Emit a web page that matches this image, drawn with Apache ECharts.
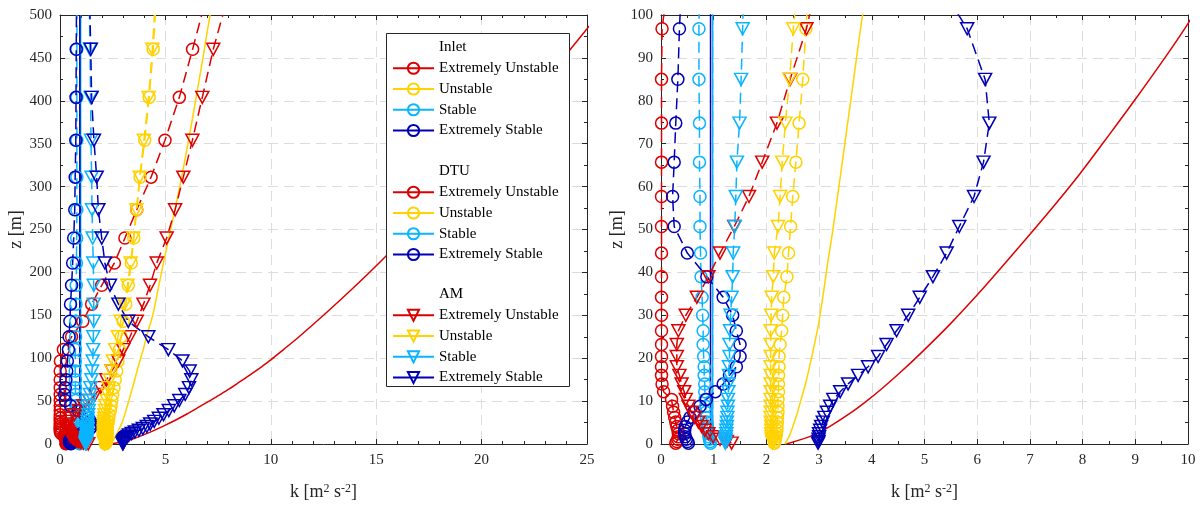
<!DOCTYPE html>
<html><head><meta charset="utf-8">
<script src="https://cdn.jsdelivr.net/npm/echarts@6/dist/echarts.min.js"></script>
<style>html,body{margin:0;padding:0;background:#fff}#c{width:1200px;height:506px}</style>
</head><body><div id="c"></div>
<script>
// ---------- data ----------
const stabilityNames = ['Extremely Unstable', 'Unstable', 'Stable', 'Extremely Stable'];
const groupNames = ['Inlet', 'DTU', 'AM'];

// heights of the inlet profiles [m]
const inletZ = [0, 2, 4, 7, 10, 13, 17, 22, 28, 35, 42, 49, 56, 63, 72, 80, 90, 98, 110, 125, 150, 180, 210, 250, 300, 350, 400, 450, 480, 500];
const inletExtUnstableK = [2.38, 2.88, 3.19, 3.57, 3.9, 4.2, 4.57, 5.0, 5.49, 6.02, 6.52, 7.01, 7.49, 7.95, 8.5, 8.98, 9.56, 10.0, 10.6, 11.34, 12.5, 13.83, 15.1, 16.7, 18.6, 20.43, 22.18, 23.88, 24.87, 25.55];
const inletUnstableK   = [2.35, 2.44, 2.5, 2.58, 2.65, 2.72, 2.8, 2.89, 2.99, 3.08, 3.16, 3.25, 3.33, 3.41, 3.51, 3.6, 3.71, 3.8, 3.95, 4.1, 4.4, 4.65, 4.9, 5.25, 5.68, 6.07, 6.43, 6.78, 6.98, 7.12];
const inletStableK     = [0.98, 0.98, 0.98, 0.98, 0.98, 0.98, 0.98, 0.98, 0.98, 0.98, 0.98, 0.98, 0.98, 0.98, 0.98, 0.98, 0.98, 0.98, 0.98, 0.98, 0.98, 0.98, 0.98, 0.98, 0.98, 0.98, 0.98, 0.98, 0.98, 0.98];
const inletExtStableK  = [0.94, 0.94, 0.94, 0.94, 0.94, 0.94, 0.94, 0.94, 0.94, 0.94, 0.94, 0.94, 0.94, 0.94, 0.94, 0.94, 0.94, 0.94, 0.94, 0.94, 0.94, 0.94, 0.94, 0.94, 0.94, 0.94, 0.94, 0.94, 0.94, 0.94];

// heights of the simulated profiles [m] (last value: top of domain, no marker)
const zLevels = [0.2, 0.6, 1.1, 1.7, 2.4, 3.2, 4.1, 5.1, 6.2, 7.4, 8.8, 10.4, 12.2, 14.0, 16.0, 18.0, 20.4, 23.2, 26.4, 30.0, 34.2, 39.0, 44.5, 50.7, 57.7, 65.7, 74.8, 85.0, 96.8, 110, 125, 143, 163, 185, 211, 240, 273, 311, 354, 404, 460, 500];

const dtuExtUnstableK = [0.28, 0.30, 0.32, 0.33, 0.33, 0.32, 0.30, 0.28, 0.26, 0.24, 0.22, 0.20, 0.05, 0.02, 0.01, 0.01, 0.01, 0.01, 0.01, 0.01, 0.01, 0.01, 0.01, 0.01, 0.01, 0.01, 0.01, 0.01, 0.02, 0.16, 0.55, 1.08, 1.5, 1.98, 2.58, 3.08, 3.64, 4.32, 4.98, 5.66, 6.29, 6.72];
const dtuUnstableK    = [2.15, 2.16, 2.17, 2.18, 2.19, 2.2, 2.2, 2.21, 2.21, 2.22, 2.22, 2.22, 2.23, 2.23, 2.23, 2.24, 2.24, 2.26, 2.29, 2.31, 2.33, 2.39, 2.42, 2.46, 2.5, 2.56, 2.62, 2.69, 2.75, 2.82, 2.9, 3.0, 3.12, 3.24, 3.38, 3.5, 3.64, 3.8, 4.02, 4.23, 4.42, 4.52];
const dtuStableK      = [0.94, 0.93, 0.92, 0.91, 0.9, 0.89, 0.88, 0.87, 0.86, 0.85, 0.85, 0.84, 0.83, 0.83, 0.82, 0.82, 0.81, 0.8, 0.8, 0.79, 0.78, 0.76, 0.75, 0.74, 0.74, 0.73, 0.73, 0.72, 0.72, 0.73, 0.74, 0.75, 0.76, 0.77, 0.78, 0.79, 0.8, 0.8, 0.8, 0.8, 0.8, 0.8];
const dtuExtStableK   = [0.52, 0.5, 0.48, 0.46, 0.45, 0.45, 0.46, 0.5, 0.55, 0.62, 0.74, 0.86, 1.03, 1.18, 1.3, 1.43, 1.5, 1.5, 1.43, 1.36, 1.18, 0.87, 0.5, 0.25, 0.22, 0.25, 0.28, 0.32, 0.35, 0.4, 0.43, 0.47, 0.5, 0.55, 0.6, 0.65, 0.7, 0.72, 0.75, 0.76, 0.77, 0.78];

const amExtUnstableK  = [1.34, 1.25, 1.12, 0.99, 0.9, 0.83, 0.77, 0.71, 0.64, 0.58, 0.52, 0.47, 0.44, 0.39, 0.35, 0.3, 0.3, 0.3, 0.33, 0.47, 0.68, 0.9, 1.12, 1.39, 1.67, 1.92, 2.2, 2.45, 2.76, 3.0, 3.32, 3.64, 3.96, 4.27, 4.59, 5.06, 5.46, 5.85, 6.28, 6.75, 7.27, 7.72];
const amUnstableK     = [2.12, 2.11, 2.1, 2.1, 2.09, 2.09, 2.09, 2.08, 2.08, 2.08, 2.08, 2.08, 2.08, 2.08, 2.08, 2.08, 2.08, 2.08, 2.08, 2.09, 2.1, 2.13, 2.15, 2.22, 2.26, 2.3, 2.36, 2.44, 2.51, 2.62, 2.75, 2.88, 3.05, 3.2, 3.35, 3.48, 3.62, 3.78, 3.98, 4.2, 4.38, 4.48];
const amStableK       = [1.22, 1.22, 1.23, 1.23, 1.24, 1.24, 1.25, 1.25, 1.26, 1.26, 1.27, 1.27, 1.28, 1.28, 1.29, 1.29, 1.3, 1.3, 1.31, 1.32, 1.34, 1.36, 1.37, 1.4, 1.42, 1.44, 1.49, 1.52, 1.55, 1.57, 1.58, 1.6, 1.6, 1.6, 1.58, 1.55, 1.52, 1.5, 1.47, 1.45, 1.42, 1.4];
const amExtStableK    = [2.98, 2.99, 2.99, 3.0, 3.0, 3.02, 3.04, 3.07, 3.1, 3.15, 3.21, 3.27, 3.4, 3.55, 3.74, 3.93, 4.12, 4.28, 4.47, 4.69, 4.91, 5.16, 5.42, 5.66, 5.94, 6.12, 6.23, 6.15, 5.81, 5.14, 4.19, 3.24, 2.77, 2.37, 2.13, 1.98, 1.82, 1.74, 1.61, 1.5, 1.46, 1.42];

// ---------- style ----------
const COLORS = ['#DC0000', '#FFD200', '#0AB4FF', '#0000B4'];
const AX = '#262626';
const FONT = "'Liberation Serif','Times New Roman',serif";

const inletK = [inletExtUnstableK, inletUnstableK, inletStableK, inletExtStableK];
const dtuK = [dtuExtUnstableK, dtuUnstableK, dtuStableK, dtuExtStableK];
const amK = [amExtUnstableK, amUnstableK, amStableK, amExtStableK];

function lineSeries(gi, name, ks, zs, color, kind) {
  const last = zs.length - 1;
  const data = zs.map((z, i) => (kind !== 'inlet' && i === last) ? {value: [ks[i], z], symbol: 'none'} : [ks[i], z]);
  const s = {
    type: 'line', name: name, xAxisIndex: gi, yAxisIndex: gi, data: data,
    clip: true, animation: false, silent: true,
    lineStyle: {color: color, width: 1.5, type: kind === 'inlet' ? 'solid' : [11, 6]},
    itemStyle: {color: 'rgba(255,255,255,0)', borderColor: color, borderWidth: 1.5},
    emphasis: {disabled: true}
  };
  if (kind === 'inlet') { s.symbol = 'none'; s.showSymbol = false; s.smooth = 0.3; }
  else if (kind === 'dtu') { s.symbol = 'circle'; s.symbolSize = 12; s.showAllSymbol = true; }
  else { s.symbol = 'triangle'; s.symbolRotate = 180; s.symbolSize = [13, 12]; s.showAllSymbol = true; }
  return s;
}

const series = [];
groupNames.forEach(g => series.push({type: 'line', name: g, data: [], symbol: 'none',
  itemStyle: {opacity: 0}, lineStyle: {width: 0, opacity: 0}, xAxisIndex: 0, yAxisIndex: 0}));
[0, 1].forEach(gi => {
  for (let j = 0; j < 4; j++) series.push(lineSeries(gi, 'Inlet|' + stabilityNames[j], inletK[j], inletZ, COLORS[j], 'inlet'));
  for (let j = 0; j < 4; j++) series.push(lineSeries(gi, 'DTU|' + stabilityNames[j], dtuK[j], zLevels, COLORS[j], 'dtu'));
  for (let j = 0; j < 4; j++) series.push(lineSeries(gi, 'AM|' + stabilityNames[j], amK[j], zLevels, COLORS[j], 'am'));
});

function axis(dim, gi, pos, min, max, interval, minorSplit, main) {
  const a = {
    type: 'value', gridIndex: gi, position: pos, min: min, max: max, interval: interval,
    axisLine: {show: true, onZero: false, lineStyle: {color: AX, width: 1}},
    axisTick: {show: true, inside: true, length: 5, lineStyle: {color: AX, width: 1}},
    minorTick: {show: true, splitNumber: minorSplit, length: 3, lineStyle: {color: AX, width: 1}},
    axisLabel: {show: main, color: AX, fontFamily: FONT, fontSize: 15, margin: dim === 'x' ? 9 : 8},
    splitLine: {show: main, lineStyle: {color: '#DCDCDC', width: 1, type: [10, 6]}},
    minorSplitLine: {show: false}
  };
  if (main) {
    a.nameLocation = 'middle';
    a.nameTextStyle = {fontFamily: FONT, fontSize: 18, color: AX,
      rich: {sup: {fontFamily: FONT, fontSize: 12, color: AX, verticalAlign: 'top', lineHeight: 12}}};
    if (dim === 'x') { a.name = 'k [m{sup|2} s{sup|-2}]'; a.nameGap = 39; }
    else { a.name = 'z [m]'; a.nameGap = 34; }
  }
  return a;
}

const legendBase = {
  orient: 'vertical', left: 392, itemWidth: 41, itemHeight: 14, itemGap: 5.75, padding: 0,
  selectedMode: false, z: 20,
  textStyle: {fontFamily: FONT, fontSize: 15, color: '#000', lineHeight: 14},
  formatter: n => n.split('|').pop()
};
function legendData(g) {
  const d = [{name: g, icon: 'rect', itemStyle: {color: 'rgba(0,0,0,0)', opacity: 0, borderWidth: 0}, lineStyle: {opacity: 0, width: 0}}];
  stabilityNames.forEach(s => d.push(g === 'Inlet' ? g + '|' + s : {name: g + '|' + s, lineStyle: {type: 'solid'}}));
  return d;
}

const option = {
  animation: false,
  backgroundColor: '#fff',
  grid: [
    {left: 60, right: 613, top: 15, bottom: 62},
    {left: 661, right: 12, top: 15, bottom: 62}
  ],
  xAxis: [
    axis('x', 0, 'bottom', 0, 25, 5, 5, true),
    axis('x', 1, 'bottom', 0, 10, 1, 2, true),
    axis('x', 0, 'top', 0, 25, 5, 5, false),
    axis('x', 1, 'top', 0, 10, 1, 2, false)
  ],
  yAxis: [
    axis('y', 0, 'left', 0, 500, 50, 2, true),
    axis('y', 1, 'left', 0, 100, 10, 2, true),
    axis('y', 0, 'right', 0, 500, 50, 2, false),
    axis('y', 1, 'right', 0, 100, 10, 2, false)
  ],
  graphic: [{type: 'rect', z: 15, shape: {x: 386.5, y: 33.5, width: 183, height: 353},
    style: {fill: '#fff', stroke: AX, lineWidth: 1}}],
  legend: [
    Object.assign({}, legendBase, {top: 40, data: legendData('Inlet')}),
    Object.assign({}, legendBase, {top: 164, data: legendData('DTU')}),
    Object.assign({}, legendBase, {top: 287, data: legendData('AM')})
  ],
  series: series
};
const chart = echarts.init(document.getElementById('c'), null, {renderer: 'canvas'});
chart.setOption(option);
</script></body></html>
